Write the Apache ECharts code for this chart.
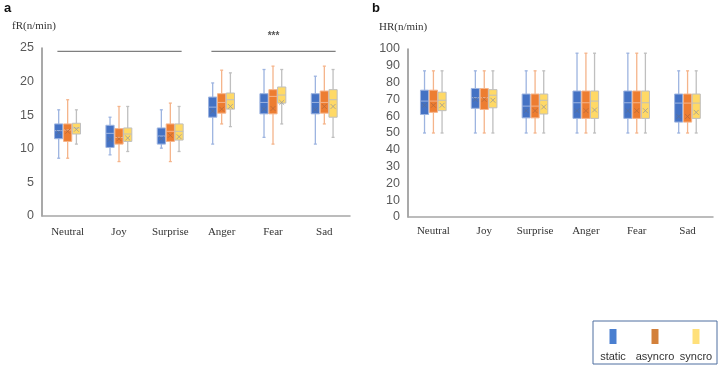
<!DOCTYPE html>
<html>
<head>
<meta charset="utf-8">
<script src="https://cdn.jsdelivr.net/npm/echarts@6/dist/echarts.min.js"></script>
<style>
    html, body { margin: 0; padding: 0; background: #fff; }
    #chart { width: 720px; height: 368px; }
</style>
</head>
<body>
<div id="chart"></div>
<script>
const categories = ["Neutral", "Joy", "Surprise", "Anger", "Fear", "Sad"];
const groups = ["static", "asyncro", "syncro"];

// each row: [min, q1, median, q3, max, mean]
const frStatic = [
    [8.6, 11.5, 12.7, 13.7, 15.8, 12.4],
    [9.1, 10.2, 12.3, 13.5, 14.7, 11.4],
    [10.1, 10.7, 11.9, 13.1, 15.8, 11.5],
    [10.7, 14.7, 16.2, 17.7, 19.8, 15.6],
    [11.7, 15.2, 16.9, 18.2, 21.8, 15.9],
    [10.7, 15.2, 16.9, 18.2, 20.8, 15.8],
];
const frAsyncro = [
    [8.6, 11.1, 12.8, 13.7, 17.3, 12.6],
    [8.1, 10.7, 11.7, 13.0, 16.3, 11.5],
    [8.1, 11.1, 12.6, 13.7, 16.8, 12.0],
    [13.7, 15.3, 16.9, 18.2, 21.7, 15.9],
    [10.7, 15.2, 17.8, 18.8, 22.3, 16.0],
    [13.7, 15.3, 16.9, 18.6, 22.3, 16.3],
];
const frSyncro = [
    [10.7, 12.2, 13.1, 13.8, 15.8, 12.9],
    [9.6, 11.1, 12.2, 13.1, 16.3, 11.6],
    [9.6, 11.3, 12.6, 13.7, 16.3, 11.8],
    [13.3, 15.9, 17.3, 18.3, 21.3, 16.3],
    [13.7, 16.8, 18.0, 19.2, 21.8, 16.9],
    [11.7, 14.7, 17.3, 18.8, 21.8, 16.3],
];
const hrStatic = [
    [50, 61, 69, 75.5, 87, 66.5],
    [50, 64.7, 71, 76.5, 87, 70],
    [50, 59, 66, 73.2, 87, 63.3],
    [50, 58.7, 68, 75, 97.5, 63.3],
    [50, 58.7, 68, 75, 97.5, 63.3],
    [50, 56.5, 67.8, 73.2, 87, 59.8],
];
const hrAsyncro = [
    [50, 62.3, 69, 75.5, 87, 66.5],
    [50, 64, 71, 76.5, 87, 70],
    [50, 59, 66, 73.2, 87, 63.3],
    [50, 58.7, 68, 75, 97.5, 63.3],
    [50, 58.7, 68, 75, 97.5, 63.3],
    [50, 56.5, 67.8, 73.2, 87, 59.8],
];
const hrSyncro = [
    [50, 63.3, 69.5, 74.3, 87, 66.5],
    [50, 65, 72.5, 75.8, 87, 69.5],
    [50, 61.3, 69.5, 73.2, 87, 65.5],
    [50, 58.7, 69, 75, 97.5, 63.7],
    [50, 58.7, 68, 75, 97.5, 63.3],
    [50, 58.7, 67.8, 73.2, 87, 62.3],
];

// significance bars on fR: [fromCategory, toCategory, level, label]
const frSig = [
    [0, 2, 24.5, ""],
    [3, 5, 24.5, "***"],
];

const frAxis = { min: 0, max: 25, interval: 5 };
const hrAxis = { min: 0, max: 100, interval: 10 };

const styles = [
    { fill: "#4472c4", line: "#9db4e0", mean: "#5a6f96", offset: -0.175 },
    { fill: "#ed7d31", line: "#f5b48a", mean: "#b8683a", offset: 0 },
    { fill: "#ffd966", line: "#bfbfbf", mean: "#9a9a9a", offset: 0.17 },
];

function boxRender(st) {
    return function (params, api) {
        const ci = api.value(0);
        const band = api.size([1, 0])[0];
        const x = api.coord([ci, 0])[0] + st.offset * band;
        const w = band * 0.16;
        const y = [1, 2, 3, 4, 5, 6].map((i) => api.coord([ci, api.value(i)])[1]);
        const lineStyle = { stroke: st.line, lineWidth: 1.3 };
        const m = 2.4;
        return {
            type: "group",
            children: [
                { type: "line", shape: { x1: x, y1: y[0], x2: x, y2: y[1] }, style: lineStyle },
                { type: "line", shape: { x1: x, y1: y[3], x2: x, y2: y[4] }, style: lineStyle },
                { type: "line", shape: { x1: x - 1.5, y1: y[0], x2: x + 1.5, y2: y[0] }, style: lineStyle },
                { type: "line", shape: { x1: x - 1.5, y1: y[4], x2: x + 1.5, y2: y[4] }, style: lineStyle },
                {
                    type: "rect",
                    shape: { x: x - w / 2, y: y[3], width: w, height: y[1] - y[3] },
                    style: { fill: st.fill, stroke: st.line, lineWidth: 1 },
                },
                { type: "line", shape: { x1: x - w / 2, y1: y[2], x2: x + w / 2, y2: y[2] }, style: { stroke: st.line, lineWidth: 1 } },
                { type: "line", shape: { x1: x - m, y1: y[5] - m, x2: x + m, y2: y[5] + m }, style: { stroke: st.mean, lineWidth: 0.8 } },
                { type: "line", shape: { x1: x - m, y1: y[5] + m, x2: x + m, y2: y[5] - m }, style: { stroke: st.mean, lineWidth: 0.8 } },
            ],
        };
    };
}

function sigRender(params, api) {
    const band = api.size([1, 0])[0];
    const x1 = api.coord([api.value(0), 0])[0] - 0.2 * band;
    const x2 = api.coord([api.value(1), 0])[0] + 0.22 * band;
    const y = api.coord([0, api.value(2)])[1];
    const label = frSig[params.dataIndex][3];
    return {
        type: "group",
        children: [
            { type: "line", shape: { x1: x1, y1: y, x2: x2, y2: y }, style: { stroke: "#7f7f7f", lineWidth: 1.3 } },
            {
                type: "text",
                style: {
                    text: label, x: (x1 + x2) / 2, y: y - 15, align: "center", verticalAlign: "middle",
                    fill: "#595959", font: "bold 10px 'Liberation Sans'",
                },
            },
        ],
    };
}

function toData(rows) {
    return rows.map((r, i) => [i].concat(r));
}

const seriesList = [];
[[frStatic, frAsyncro, frSyncro], [hrStatic, hrAsyncro, hrSyncro]].forEach((sets, gi) => {
    sets.forEach((rows, si) => {
        seriesList.push({
            name: groups[si],
            type: "custom",
            xAxisIndex: gi,
            yAxisIndex: gi,
            renderItem: boxRender(styles[si]),
            encode: { x: 0, y: [1, 2, 3, 4, 5, 6] },
            data: toData(rows),
            z: 3,
        });
    });
});
seriesList.push({
    type: "custom",
    xAxisIndex: 0,
    yAxisIndex: 0,
    renderItem: sigRender,
    encode: { x: [0, 1], y: 2 },
    data: frSig.map((s) => [s[0], s[1], s[2]]),
    clip: false,
});

function xAxisOf(gi, margin) {
    return {
        type: "category",
        gridIndex: gi,
        data: categories,
        axisLine: { show: true, lineStyle: { color: "#a6a6a6", width: 1.5 } },
        axisTick: { show: false },
        axisLabel: { margin: margin, color: "#333", fontSize: 11, fontFamily: "Liberation Serif" },
    };
}
function yAxisOf(gi, range) {
    return {
        type: "value",
        gridIndex: gi,
        min: range.min,
        max: range.max,
        interval: range.interval,
        axisLine: { show: true, lineStyle: { color: "#8c8c8c", width: 1.5 } },
        axisTick: { show: false },
        splitLine: { show: false },
        axisLabel: { margin: 8, color: "#595959", fontSize: 12.5, fontFamily: "Liberation Sans" },
    };
}

const legendItems = [];
groups.forEach((g, i) => {
    const cx = [613, 655, 696][i];
    legendItems.push({
        type: "rect",
        shape: { x: cx - 3.5, y: 329, width: 7, height: 15 },
        style: { fill: ["#4a7fd0", "#d3803a", "#ffe07a"][i] },
    });
    legendItems.push({
        type: "text",
        style: {
            text: g, x: cx, y: 357, align: "center", verticalAlign: "middle",
            fill: "#333", font: "11px 'Liberation Sans'",
        },
    });
});

const chart = echarts.init(document.getElementById("chart"));
chart.setOption({
    animation: false,
    grid: [
        { left: 42, top: 48, width: 308, height: 168 },
        { left: 408, top: 49, width: 305, height: 168 },
    ],
    xAxis: [xAxisOf(0, 11), xAxisOf(1, 9)],
    yAxis: [yAxisOf(0, frAxis), yAxisOf(1, hrAxis)],
    series: seriesList,
    graphic: [
        { type: "text", left: 4, top: 2, style: { text: "a", fill: "#111", font: "bold 13px 'Liberation Sans'" } },
        { type: "text", left: 372, top: 2, style: { text: "b", fill: "#111", font: "bold 13px 'Liberation Sans'" } },
        { type: "text", left: 12, top: 21, style: { text: "fR(n/min)", fill: "#333", font: "11px 'Liberation Serif'" } },
        { type: "text", left: 379, top: 22, style: { text: "HR(n/min)", fill: "#333", font: "11px 'Liberation Serif'" } },
        {
            type: "rect",
            shape: { x: 593, y: 321, width: 124, height: 43 },
            style: { fill: "#fff", stroke: "#4f6fa0", lineWidth: 1 },
        },
    ].concat(legendItems),
});
</script>
</body>
</html>
